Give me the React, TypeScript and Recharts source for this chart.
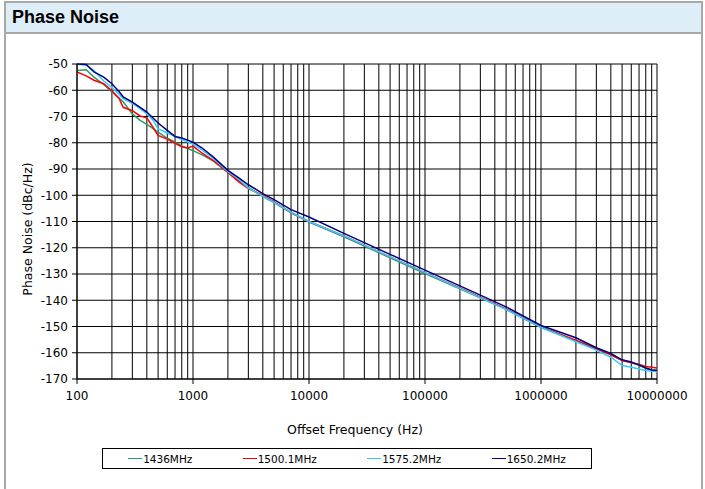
import React from "react";
import {
  LineChart,
  Line,
  XAxis,
  YAxis,
  CartesianGrid,
  ReferenceLine,
} from "recharts";

// offset frequencies (Hz) shared by all traces
const FREQ = [
  100, 120, 140, 170, 200, 230, 250, 300, 350, 400, 450, 500, 600, 700, 800,
  900, 1000, 1200, 1500, 2000, 2500, 3000, 4000, 5000, 7000, 10000, 20000,
  50000, 100000, 200000, 500000, 1000000, 2000000, 3000000, 4000000, 5000000,
  6000000, 7000000, 8000000, 9000000, 10000000,
];

const PN_1436 = [
  -52.5, -52.2, -55, -57.8, -60.6, -63, -64.4, -69, -71.5, -73, -74.5, -76,
  -78.3, -79.8, -81.2, -82.2, -83, -84.6, -87, -91.3, -94.5, -97, -100.5,
  -102.8, -106.7, -110.2, -115.8, -123.8, -129.8, -135.6, -143.5, -150.4,
  -155.4, -158.4, -160.6, -162.9, -163.7, -164.8, -165.9, -166.5, -166.7,
];

const PN_1500 = [
  -53, -54.5, -56.2, -57.5, -60.2, -63, -66.5, -67.8, -69.8, -70.5, -74,
  -77.2, -78.6, -80.2, -81.5, -82, -81.3, -84, -86.8, -91.3, -95, -97.5, -100,
  -102.5, -106.5, -110, -115.5, -123.5, -129.5, -135.3, -143.3, -150.2,
  -155.2, -158.5, -160.8, -163, -163.8, -164.5, -165.2, -165.5, -165.8,
];

const PN_1575 = [
  -50, -50.5, -52.5, -56.5, -59, -61.5, -63.2, -65, -67, -69, -71.3, -74.7,
  -76.2, -77.6, -78.7, -79.7, -80.5, -82.8, -86, -91, -94, -97.3, -100.3,
  -102.7, -106.5, -110, -115.5, -123.5, -129.5, -135.5, -143.5, -150.3,
  -155.8, -159, -161.7, -164.9, -165.5, -166.2, -166.8, -167, -167.2,
];

const PN_1650 = [
  -50, -50.2, -53, -55, -57.5, -60.5, -62.5, -64.5, -66.5, -68.3, -70.5,
  -72.5, -75.3, -77.6, -78.2, -79, -79.8, -82, -85.5, -90.5, -93.5, -96,
  -99.4, -101.7, -105.5, -108.3, -114.5, -122.5, -128.5, -134.5, -142.5,
  -149.6, -154.3, -158.1, -160.3, -162.7, -163.5, -164.6, -165.8, -166.6,
  -166.8,
];

const X_TICKS = [100, 1000, 10000, 100000, 1000000, 10000000];
const Y_TICKS = [
  -50, -60, -70, -80, -90, -100, -110, -120, -130, -140, -150, -160, -170,
];
// minor log grid lines (2..9 of every decade)
const MINOR_GRID = [
  200, 300, 400, 500, 600, 700, 800, 900, 2000, 3000, 4000, 5000, 6000, 7000,
  8000, 9000, 20000, 30000, 40000, 50000, 60000, 70000, 80000, 90000, 200000,
  300000, 400000, 500000, 600000, 700000, 800000, 900000, 2000000, 3000000,
  4000000, 5000000, 6000000, 7000000, 8000000, 9000000,
];

const SERIES = [
  { key: "s1436", name: "1436MHz", color: "#2a9a6c", values: PN_1436 },
  { key: "s1500", name: "1500.1MHz", color: "#ff0000", values: PN_1500 },
  { key: "s1575", name: "1575.2MHz", color: "#33ccff", values: PN_1575 },
  { key: "s1650", name: "1650.2MHz", color: "#000080", values: PN_1650 },
];

const data = FREQ.map((f, i) => {
  const row: Record<string, number> = { f };
  SERIES.forEach((s) => {
    row[s.key] = s.values[i];
  });
  return row;
});

const font = '"DejaVu Sans", Verdana, sans-serif';
const tickStyle = { fontSize: 12, fill: "#000", fontFamily: font };

export default function App() {
  return (
    <div
      style={{
        position: "fixed",
        left: 0,
        top: 0,
        width: 705,
        height: 489,
        background: "#fff",
        overflow: "hidden",
        fontFamily: font,
      }}
    >
      {/* panel frame + header */}
      <div
        style={{
          position: "absolute",
          left: 4,
          top: 1,
          width: 695,
          height: 500,
          border: "2px solid #a8a8a8",
          boxSizing: "content-box",
        }}
      />
      <div
        style={{
          position: "absolute",
          left: 6,
          top: 3,
          width: 695,
          height: 29,
          background: "#deeef9",
          borderBottom: "2px solid #a8a8a8",
        }}
      />
      <div
        style={{
          position: "absolute",
          left: 12,
          top: 7,
          fontFamily: '"Liberation Sans", Arial, sans-serif',
          fontWeight: "bold",
          fontSize: 18,
          color: "#000",
        }}
      >
        Phase Noise
      </div>

      <div style={{ position: "absolute", left: 0, top: 0 }}>
        <LineChart
          width={705}
          height={489}
          data={data}
          margin={{ top: 64, right: 48, left: 17, bottom: 80 }}
        >
          <CartesianGrid stroke="#000" strokeWidth={1} />
          {MINOR_GRID.map((v) => (
            <ReferenceLine key={v} x={v} stroke="#000" strokeWidth={1} />
          ))}
          <XAxis
            dataKey="f"
            type="number"
            scale="log"
            domain={[100, 10000000]}
            ticks={X_TICKS}
            allowDataOverflow
            tickFormatter={(v) => String(v)}
            tick={tickStyle}
            tickSize={5}
            tickMargin={7}
            height={30}
            stroke="#000"
          />
          <YAxis
            type="number"
            domain={[-170, -50]}
            ticks={Y_TICKS}
            interval={0}
            tick={tickStyle}
            tickSize={5}
            tickMargin={4}
            width={60}
            stroke="#000"
          />
          {SERIES.map((s) => (
            <Line
              key={s.key}
              dataKey={s.key}
              name={s.name}
              stroke={s.color}
              strokeWidth={1.5}
              dot={false}
              type="linear"
              isAnimationActive={false}
            />
          ))}
        </LineChart>
      </div>

      {/* axis titles */}
      <div
        style={{
          position: "absolute",
          left: 27,
          top: 229,
          transform: "translate(-50%, -50%) rotate(-90deg)",
          fontSize: 12.5,
          whiteSpace: "nowrap",
        }}
      >
        Phase Noise (dBc/Hz)
      </div>
      <div
        style={{
          position: "absolute",
          left: 355,
          top: 429,
          transform: "translate(-50%, -50%)",
          fontSize: 12.5,
          whiteSpace: "nowrap",
        }}
      >
        Offset Frequency (Hz)
      </div>

      {/* legend */}
      <div
        style={{
          position: "absolute",
          left: 102,
          top: 448,
          width: 488,
          height: 19,
          border: "1px solid #000",
          display: "flex",
          alignItems: "center",
          justifyContent: "space-around",
          fontSize: 10.5,
        }}
      >
        {SERIES.map((s) => (
          <div key={s.key} style={{ display: "flex", alignItems: "center" }}>
            <span
              style={{
                display: "inline-block",
                width: 14,
                height: 0,
                borderTop: `1.5px solid ${s.color}`,
                marginRight: 1,
              }}
            />
            <span>{s.name}</span>
          </div>
        ))}
      </div>
    </div>
  );
}
